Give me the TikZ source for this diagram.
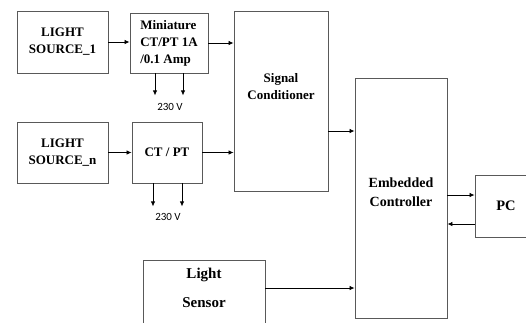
\documentclass[tikz,border=0pt]{standalone}
\usepackage{fontspec}
\setmainfont{Liberation Serif}
\newfontfamily\calibri{Carlito}
\usetikzlibrary{arrows.meta,positioning}
\tikzset{
  blk/.style={draw=black!65, line width=0.9pt, inner sep=0pt, align=center,
    font=\fontsize{13}{17}\selectfont\bfseries},
  txt/.style={inner sep=0pt, align=center, font=\fontsize{13}{17}\selectfont\bfseries},
  arr/.style={-{Latex[length=5pt,width=4.5pt]}, line width=0.8pt},
  volt/.style={inner sep=0pt, font=\calibri\fontsize{11}{13}\selectfont}
}
\begin{document}
\begin{tikzpicture}[x=1pt,y=-1pt]
    \useasboundingbox (0,0) rectangle (526,322);
    % light sources and CT/PT
    \node[blk, minimum width=91pt, minimum height=62pt] (src1) at (62.5,42) {LIGHT\\SOURCE\_1};
    \node[blk, minimum width=78pt, minimum height=60pt, align=left] (ct1) at (169,43) {Miniature\\CT/PT 1A\\/0.1 Amp};
    \node[blk, minimum width=91pt, minimum height=61pt] (srcn) at (62.5,152.5) {LIGHT\\SOURCE\_n};
    \node[blk, minimum width=70pt, minimum height=61pt] (ctn) at (167,152.5) {CT / PT};

    % signal conditioner, controller, PC, sensor
    \node[blk, minimum width=94pt, minimum height=180pt] (sig) at (281,101) {};
    \node[txt] (sigtxt) at ([yshift=14.5pt]sig.center) {Signal\\Conditioner};
    \node[blk, minimum width=92pt, minimum height=240pt] (ctrl) at (401,198) {};
    \node[txt, font=\fontsize{14}{19}\selectfont\bfseries] (ctrltxt) at ([yshift=5.5pt]ctrl.center) {Embedded\\Controller};
    \node[blk, minimum width=62pt, minimum height=62pt, font=\fontsize{14.5}{17}\selectfont\bfseries] (pc) at (506,206) {PC};
    \node[blk, minimum width=122pt, minimum height=90pt, anchor=north] (sensor) at (204,260) {};
    \node[txt, font=\fontsize{15}{29}\selectfont\bfseries] (senstxt) at ([yshift=-27.5pt]sensor.north) {Light\\Sensor};

    % connections
    \draw[arr] (src1.east) -- (src1.east -| ct1.west);
    \draw[arr] (ct1.east) -- (ct1.east -| sig.west);
    \draw[arr] (srcn.east) -- (srcn.east -| ctn.west);
    \draw[arr] (ctn.east) -- (ctn.east -| sig.west);
    \coordinate (sigout) at ([yshift=-30pt]sig.east);
    \draw[arr] (sigout) -- (sigout -| ctrl.west);
    \coordinate (topc) at ([yshift=11pt]pc.west);
    \draw[arr] (topc -| ctrl.east) -- (topc);
    \coordinate (frompc) at ([yshift=-18pt]pc.west);
    \draw[arr] (frompc) -- (frompc -| ctrl.east);
    \coordinate (sensout) at ([yshift=-28pt]sensor.north east);
    \draw[arr] (sensout) -- (sensout -| ctrl.west);

    % 230 V supply
    \foreach \dx in {-14,14}
        \draw[arr] ([xshift=\dx pt]ct1.south) -- ++(0,22);
    \foreach \dx in {-14,15}
        \draw[arr] ([xshift=\dx pt]ctn.south) -- ++(0,23);
    \node[volt] (v1) at ([xshift=1pt,yshift=-34pt]ct1.south) {230 V};
    \node[volt] (vn) at ([xshift=1pt,yshift=-34pt]ctn.south) {230 V};
\end{tikzpicture}
\end{document}
